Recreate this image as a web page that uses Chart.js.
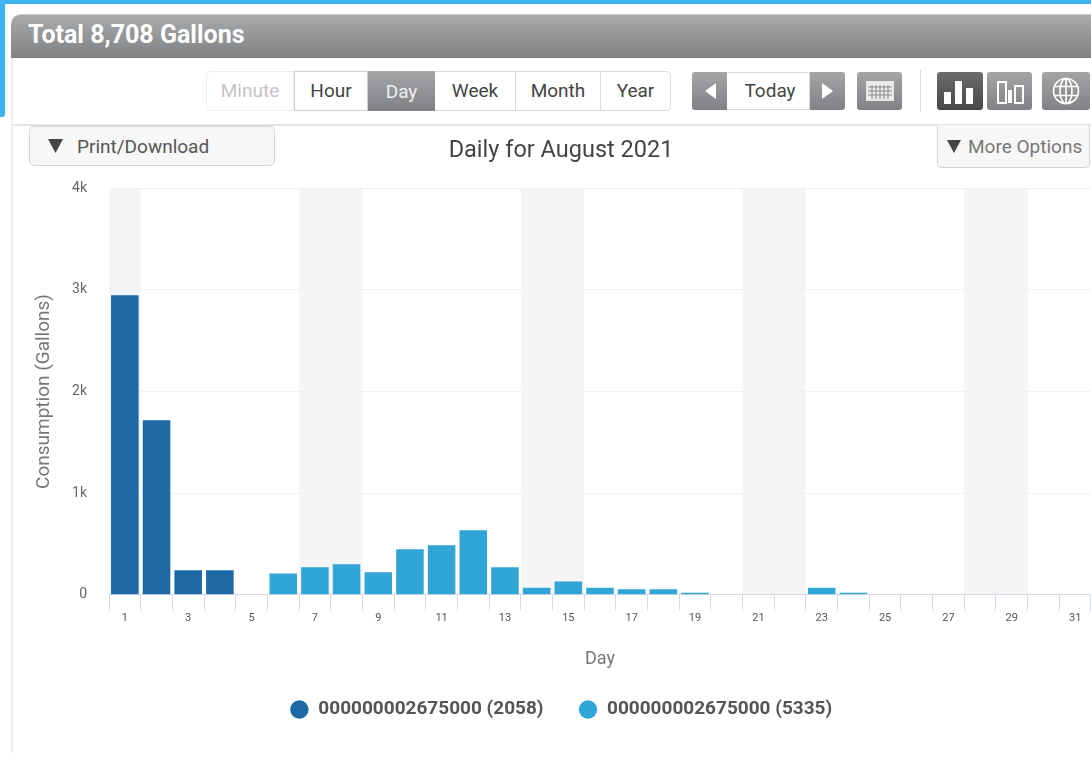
<!DOCTYPE html>
<html>
<head>
<meta charset="utf-8">
<title>Daily for August 2021</title>
<script src="https://cdn.jsdelivr.net/npm/chart.js@4"></script>
<style>
  html, body { margin: 0; padding: 0; background: #fff; }
  body { width: 1091px; height: 761px; position: relative; overflow: hidden; font-family: Roboto, sans-serif; }
  .abs { position: absolute; box-sizing: border-box; }
  .frame-top { left: 0; top: 0; width: 1091px; height: 4px; background: #3db4f2; }
  .frame-left { left: 0; top: 0; width: 5px; height: 117px; background: #3db4f2; border-bottom-right-radius: 3px; }
  .panel-edge { left: 11px; top: 58px; width: 2px; height: 695px; background: #eeeeee; }
  .header { left: 11px; top: 14px; width: 1080px; height: 44px; border-radius: 10px 0 0 0; background: linear-gradient(#a9aaac, #7f8183); border-top: 1px solid #c8c8c8; color: #fff; font-weight: 700; font-size: 25px; line-height: 40px; padding-left: 17px; }
  .rule { left: 13px; top: 124px; width: 1078px; height: 2px; background: #e2e2e2; }
  .btn { display: flex; align-items: center; justify-content: center; font-size: 19px; color: #444; background: #fff; border: 1px solid #d9d9d9; border-left-width: 0; top: 71px; height: 40px; padding-bottom: 2px; }
  .grey { background: linear-gradient(#a4a5a7, #808184); color: #fff; border: 0; padding-bottom: 0; }
  .dark { background: linear-gradient(#6b6c6e, #464749); border: 0; padding-bottom: 0; }
  .soft { color: #c4c4c4; border-left-width: 1px; border-color: #ececec; border-radius: 4px 0 0 4px; }
  .menu { background: #f7f7f7; border: 1px solid #d4d4d4; border-radius: 5px; color: #555; font-size: 19px; display: flex; align-items: center; }
  .sep { left: 920px; top: 70px; width: 1px; height: 42px; background: #dedede; }
  canvas { position: absolute; left: 0; top: 125px; }
  svg { display: block; }
</style>
</head>
<body>
  <div class="abs frame-top"></div>
  <div class="abs frame-left"></div>
  <div class="abs panel-edge"></div>
  <div class="abs header">Total 8,708 Gallons</div>

  <div class="abs btn soft" style="left:206px;width:88px">Minute</div>
  <div class="abs btn" style="left:294px;width:74px;border-left-width:1px;border-color:#cfcfcf">Hour</div>
  <div class="abs btn grey" style="left:368px;width:67px;color:#eee">Day</div>
  <div class="abs btn" style="left:435px;width:81px">Week</div>
  <div class="abs btn" style="left:516px;width:85px">Month</div>
  <div class="abs btn" style="left:601px;width:70px;border-radius:0 5px 5px 0">Year</div>

  <div class="abs btn grey" style="left:692px;width:35px;top:72px;height:38px;border-radius:3px 0 0 3px">
    <svg width="12" height="16"><polygon points="12,0 12,16 1,8" fill="#fff"/></svg>
  </div>
  <div class="abs btn" style="left:727px;width:83px;top:72px;height:38px;padding-left:4px">Today</div>
  <div class="abs btn grey" style="left:810px;width:35px;top:72px;height:38px;border-radius:0 3px 3px 0">
    <svg width="12" height="16"><polygon points="0,0 0,16 11,8" fill="#fff"/></svg>
  </div>
  <div class="abs btn grey" style="left:857px;width:45px;top:72px;height:38px;border-radius:3px">
    <svg width="28" height="20"><rect x="0" y="0" width="28" height="20" fill="#e9e9e9"/><path d="M2 6h24M2 10h24M2 14h24M6 4v14M10 4v14M14 4v14M18 4v14M22 4v14" stroke="#8a8a8a" stroke-width="1"/></svg>
  </div>
  <div class="abs sep"></div>
  <div class="abs btn dark" style="left:937px;width:46px;top:72px;height:38px;border-radius:3px">
    <svg width="34" height="26"><path d="M1 14h7v12H1zM12 3h7v23h-7zM23 10h7v16h-7z" fill="#fff"/></svg>
  </div>
  <div class="abs btn grey" style="left:987px;width:45px;top:72px;height:38px;border-radius:3px">
    <svg width="32" height="26"><g fill="none" stroke="#fff" stroke-width="2"><rect x="4" y="4" width="8" height="21"/><rect x="21" y="8" width="8" height="17"/></g><rect x="14" y="12" width="4" height="13" fill="#fff"/></svg>
  </div>
  <div class="abs btn grey" style="left:1042px;width:48px;top:72px;height:38px;border-radius:3px">
    <svg width="28" height="28"><g fill="none" stroke="#fff" stroke-width="1.6"><circle cx="14" cy="14" r="12.5"/><ellipse cx="14" cy="14" rx="6" ry="12.5"/><path d="M14 1.5v25M2 9.5h24M2 18.5h24"/></g></svg>
  </div>
  <div class="abs rule"></div>

  <canvas id="usageChart" width="1091" height="636"></canvas>

  <div class="abs menu" style="left:29px;top:126px;width:246px;height:40px;padding-left:18px">
    <svg width="15" height="14"><polygon points="0,0 15,0 7.5,14" fill="#444"/></svg>
    <span style="margin-left:14px">Print/Download</span>
  </div>
  <div class="abs menu" style="left:937px;top:125px;width:153px;height:43px;padding-left:9px;border-top:0;border-radius:0 0 5px 5px;color:#777">
    <svg width="14" height="13"><polygon points="0,0 14,0 7,13" fill="#444"/></svg>
    <span style="margin-left:7px">More Options</span>
  </div>

<script>
const dayLabels = ["1","2","3","4","5","6","7","8","9","10","11","12","13","14","15","16","17","18","19","20","21","22","23","24","25","26","27","28","29","30","31"];
const firstMeterValues = [2948,1717,241,241,0,0,0,0,0,0,0,0,0,0,0,0,0,0,0,0,0,0,0,0,0,0,0,0,0,0,0];
const secondMeterValues = [0,0,0,0,0,210,270,300,222,448,487,635,270,70,130,70,54,54,20,0,0,0,70,20,0,0,0,0,0,0,0];
const weekendDays = ["1","7","8","14","15","21","22","28","29"];
const seriesNames = ["000000002675000 (2058)", "000000002675000 (5335)"];
const yTickValues = [0, 1000, 2000, 3000, 4000];

const weekendBands = {
  id: "weekendBands",
  beforeDraw: (chart) => {
    const { ctx, chartArea, scales } = chart;
    const halfDay = (scales.x.getPixelForValue(1) - scales.x.getPixelForValue(0)) / 2;
    ctx.save();
    ctx.fillStyle = "#f5f5f6";
    weekendDays.forEach((day) => {
      const center = scales.x.getPixelForValue(dayLabels.indexOf(day));
      ctx.fillRect(center - halfDay, chartArea.top, halfDay * 2, chartArea.bottom - chartArea.top);
    });
    ctx.restore();
  },
};

new Chart(document.getElementById("usageChart"), {
  type: "bar",
  data: {
    labels: dayLabels,
    datasets: [
      { label: seriesNames[0], data: firstMeterValues, backgroundColor: "#1c69a6", borderWidth: 0 },
      { label: seriesNames[1], data: secondMeterValues, backgroundColor: "#31a5d6", borderWidth: 0 },
    ],
  },
  options: {
    responsive: false,
    animation: false,
    categoryPercentage: 1,
    barPercentage: 0.87,
    layout: { padding: { left: 31, right: 0, top: 0, bottom: 32 } },
    plugins: {
      title: {
        display: true,
        text: "Daily for August 2021",
        color: "#444",
        font: { family: "Roboto", size: 23.5, weight: "normal" },
        padding: { top: 12, bottom: 23 },
      },
      legend: {
        position: "bottom",
        labels: {
          usePointStyle: true,
          boxWidth: 19,
          boxHeight: 13,
          padding: 35,
          color: "#555",
          font: { family: "Roboto", size: 19, weight: "bold" },
        },
      },
      tooltip: { enabled: false },
    },
    scales: {
      x: {
        stacked: true,
        grid: { offset: true, drawOnChartArea: false, tickLength: 16, color: "#d5d8e6" },
        border: { color: "#d5d8e6" },
        ticks: {
          autoSkip: false,
          maxRotation: 0,
          color: "#555",
          font: { family: "Roboto", size: 11 },
          padding: 1,
          callback: (value, index) => (index % 2 === 0 ? dayLabels[index] : ""),
        },
        title: { display: true, text: "Day", color: "#777", font: { family: "Roboto", size: 18, lineHeight: 1 }, padding: { top: 24, bottom: -3 } },
      },
      y: {
        stacked: true,
        min: 0,
        max: 4000,
        afterBuildTicks: (scale) => { scale.ticks = yTickValues.map((value) => ({ value })); },
        afterFit: (scale) => { scale.width = 78; },
        grid: { color: "#f1f1f1", drawTicks: false },
        border: { display: false },
        ticks: {
          color: "#666",
          padding: 22,
          font: { family: "Roboto", size: 14 },
          callback: (value) => (value === 0 ? "0" : value / 1000 + "k"),
        },
        title: { display: true, text: "Consumption (Gallons)", color: "#777", font: { family: "Roboto", size: 19 }, padding: { top: 2, bottom: 0 } },
      },
    },
  },
  plugins: [weekendBands],
});
</script>
</body>
</html>
